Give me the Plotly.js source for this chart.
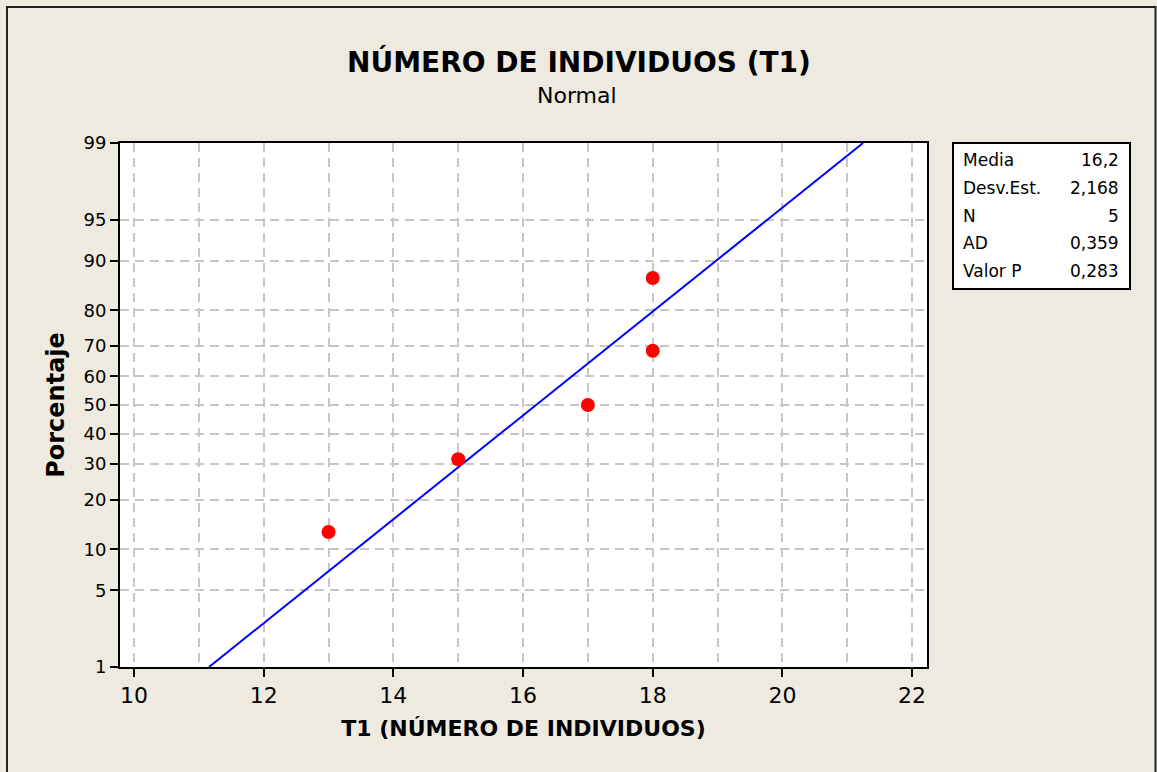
<!DOCTYPE html>
<html>
<head>
<meta charset="utf-8">
<script src="https://cdn.plot.ly/plotly-3.0.1.min.js"></script>
<style>html,body{margin:0;padding:0;background:#EEEAE0;}#chart{width:1157px;height:772px;}</style>
</head>
<body>
<div id="chart"></div>
<script>
// ---- data ----
var obsValues = [13, 15, 17, 18, 18];
var obsPercent = [12.96, 31.48, 50.0, 68.52, 87.04];
var statLabels = ["Media", "Desv.Est.", "N", "AD", "Valor P"];
var statValues = ["16,2", "2,168", "5", "0,359", "0,283"];
var fitMean = 16.2;
var fitSd = 2.168;
var linePercent = [1, 5, 20, 50, 80, 95, 99];
var yTickPercent = [1, 5, 10, 20, 30, 40, 50, 60, 70, 80, 90, 95, 99];
var xTickVals = [10, 12, 14, 16, 18, 20, 22];

// inverse normal CDF (Acklam)
function norminv(p) {
  var a = [-3.969683028665376e+01, 2.209460984245205e+02, -2.759285104469687e+02, 1.383577518672690e+02, -3.066479806614716e+01, 2.506628277459239e+00];
  var b = [-5.447609879822406e+01, 1.615858368580409e+02, -1.556989798598866e+02, 6.680131188771972e+01, -1.328068155288572e+01];
  var c = [-7.784894002430293e-03, -3.223964580411365e-01, -2.400758277161838e+00, -2.549732539343734e+00, 4.374664141464968e+00, 2.938163982698783e+00];
  var d = [7.784695709041462e-03, 3.224671290700398e-01, 2.445134137142996e+00, 3.754408661907416e+00];
  var pl = 0.02425, q, r;
  if (p < pl) {
    q = Math.sqrt(-2 * Math.log(p));
    return (((((c[0]*q+c[1])*q+c[2])*q+c[3])*q+c[4])*q+c[5]) / ((((d[0]*q+d[1])*q+d[2])*q+d[3])*q+1);
  } else if (p <= 1 - pl) {
    q = p - 0.5; r = q*q;
    return (((((a[0]*r+a[1])*r+a[2])*r+a[3])*r+a[4])*r+a[5])*q / (((((b[0]*r+b[1])*r+b[2])*r+b[3])*r+b[4])*r+1);
  } else {
    q = Math.sqrt(-2 * Math.log(1 - p));
    return -(((((c[0]*q+c[1])*q+c[2])*q+c[3])*q+c[4])*q+c[5]) / ((((d[0]*q+d[1])*q+d[2])*q+d[3])*q+1);
  }
}
function z(pct) { return norminv(pct / 100); }

var lineZ = linePercent.map(z);
var lineX = lineZ.map(function (v) { return fitMean + fitSd * v; });

var FONT = "DejaVu Sans";
var W = 1157, H = 772, L = 120, R = 230, T = 143, B = 105;
var pw = W - L - R, ph = H - T - B;
function px(xp) { return (xp - L) / pw; }
function py(yp) { return (H - B - yp) / ph; }

var GRID = "#C6C6C6";
var traces = [
  {x: lineX, y: lineZ, mode: "lines", line: {color: "#0000FF", width: 2}, hoverinfo: "skip", showlegend: false},
  {x: obsValues, y: obsPercent.map(z), mode: "markers", marker: {color: "#FF0000", size: 14}, showlegend: false}
];

var annotations = [
  {text: "<b>NÚMERO DE INDIVIDUOS (T1)</b>", xref: "paper", yref: "paper", x: px(579), y: py(62), xanchor: "center", yanchor: "middle", showarrow: false, font: {family: FONT, size: 28, color: "#000"}},
  {text: "Normal", xref: "paper", yref: "paper", x: px(577), y: py(96), xanchor: "center", yanchor: "middle", showarrow: false, font: {family: FONT, size: 22, color: "#000"}}
];
for (var i = 0; i < statLabels.length; i++) {
  var yy = 160 + i * 27.8;
  annotations.push({text: statLabels[i], xref: "paper", yref: "paper", x: px(961), y: py(yy), xanchor: "left", yanchor: "middle", showarrow: false, font: {family: FONT, size: 17, color: "#000"}});
  annotations.push({text: statValues[i], xref: "paper", yref: "paper", x: px(1121), y: py(yy), xanchor: "right", yanchor: "middle", showarrow: false, font: {family: FONT, size: 17, color: "#000"}});
}

var layout = {
  width: W, height: H,
  margin: {l: L, r: R, t: T, b: B, pad: 0},
  paper_bgcolor: "#EEEAE0",
  plot_bgcolor: "#FFFFFF",
  showlegend: false,
  xaxis: {
    range: [9.784, 22.23],
    tickmode: "array", tickvals: xTickVals, ticktext: xTickVals.map(String),
    ticks: "outside", ticklen: 8, tickwidth: 2, tickcolor: "#000",
    showline: true, linecolor: "#000", linewidth: 2, mirror: true,
    showgrid: true, gridcolor: GRID, gridwidth: 2, griddash: "9px,6px",
    minor: {dtick: 1, tick0: 10, showgrid: true, gridcolor: GRID, gridwidth: 2, griddash: "9px,6px", ticks: ""},
    zeroline: false,
    tickfont: {family: FONT, size: 22, color: "#000"},
    title: {text: "<b>T1 (NÚMERO DE INDIVIDUOS)</b>", font: {family: FONT, size: 22, color: "#000"}, standoff: 13}
  },
  yaxis: {
    range: [z(1), z(99)],
    tickmode: "array", tickvals: yTickPercent.map(z), ticktext: yTickPercent.map(String),
    ticks: "outside", ticklen: 8, tickwidth: 2, tickcolor: "#000",
    showline: true, linecolor: "#000", linewidth: 2, mirror: true,
    showgrid: true, gridcolor: GRID, gridwidth: 2, griddash: "9px,6px",
    zeroline: false,
    tickfont: {family: FONT, size: 18, color: "#000"},
    title: {text: "<b>Porcentaje</b>", font: {family: FONT, size: 24, color: "#000"}, standoff: 12}
  },
  shapes: [
    {type: "rect", xref: "paper", yref: "paper", x0: px(953), x1: px(1130), y0: py(289), y1: py(143), line: {color: "#000", width: 2}, fillcolor: "#FFFFFF", layer: "below"},
    {type: "rect", xref: "paper", yref: "paper", x0: px(7), x1: px(1155.5), y0: py(790), y1: py(7), line: {color: "#222", width: 2}, fillcolor: "rgba(0,0,0,0)"}
  ],
  annotations: annotations
};

Plotly.newPlot("chart", traces, layout, {displayModeBar: false, staticPlot: true});
</script>
</body>
</html>
